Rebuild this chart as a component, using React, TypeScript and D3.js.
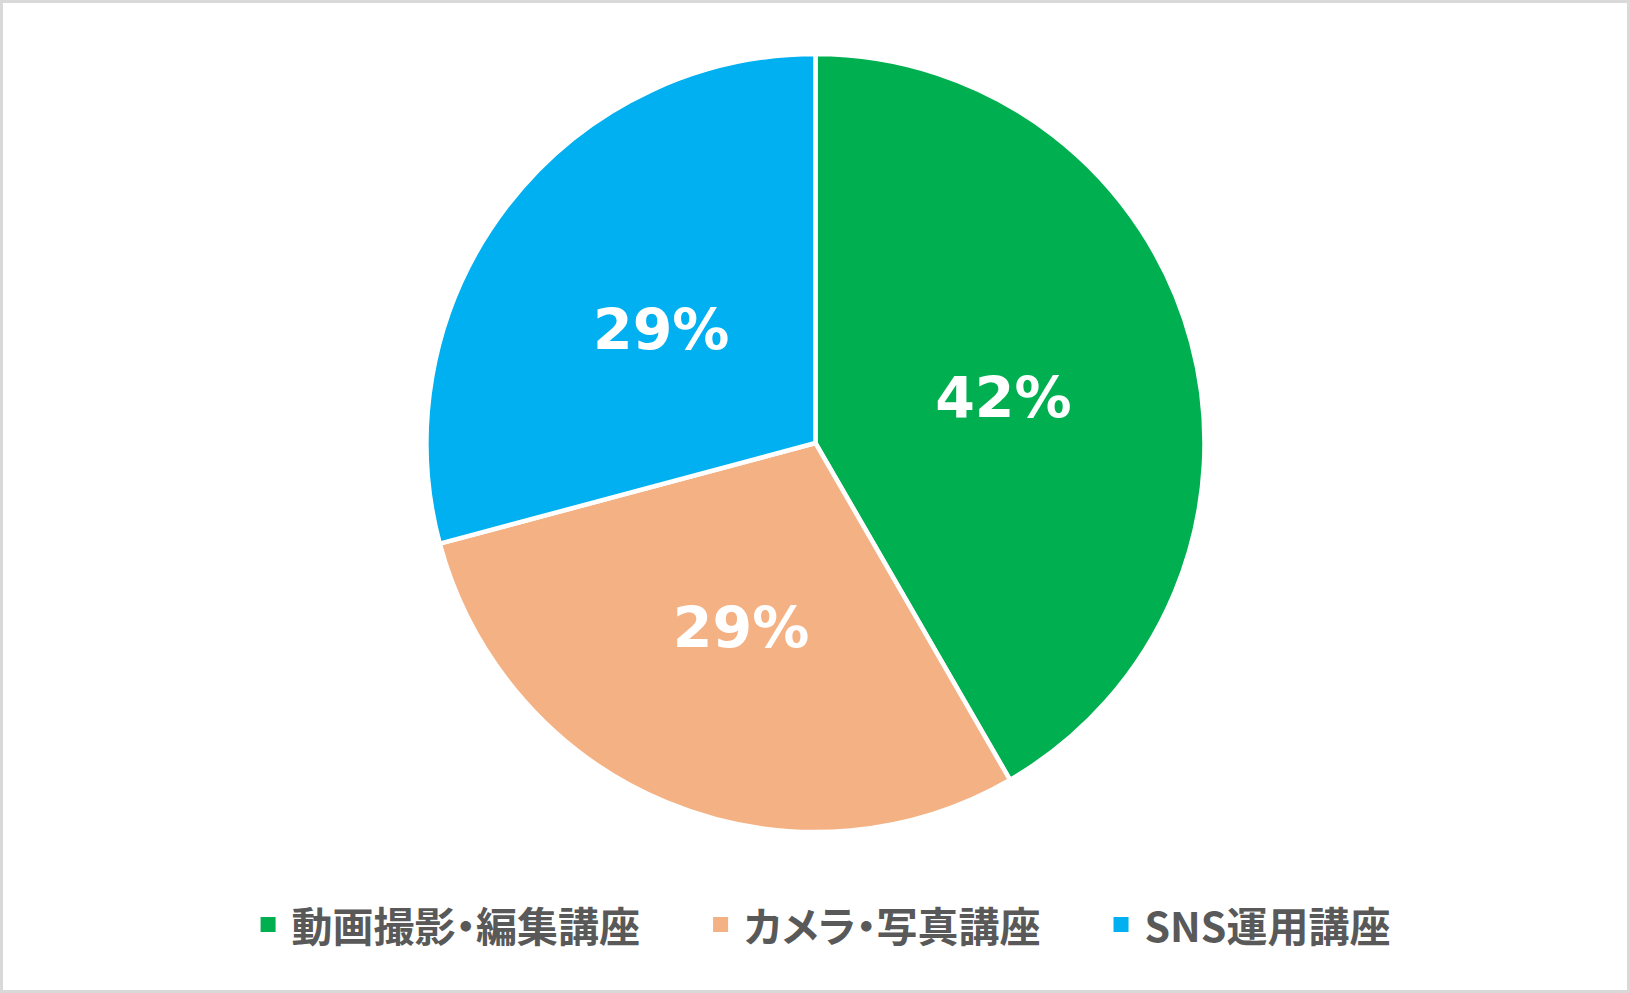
import React, { useEffect, useRef } from 'react';
import * as d3 from 'd3';

const WIDTH = 1630;
const HEIGHT = 993;

// Course shares
const categories = ['動画撮影・編集講座', 'カメラ・写真講座', 'SNS運用講座'];
const shares = [10, 7, 7];
const colors = ['#00B050', '#F4B183', '#00B0F0'];

const CX = 815.5;
const CY = 443;
const RADIUS = 389;

const App = () => {
  const svgRef = useRef<SVGSVGElement>(null);

  useEffect(() => {
    const svg = d3.select(svgRef.current);
    svg.selectAll('*').remove();

    // Outer frame
    svg.append('rect')
      .attr('x', 1.5).attr('y', 1.5)
      .attr('width', WIDTH - 3).attr('height', HEIGHT - 3)
      .attr('fill', '#fff')
      .attr('stroke', '#D9D9D9')
      .attr('stroke-width', 3);

    const data = categories.map((name, i) => ({ name, value: shares[i], color: colors[i] }));
    const total = d3.sum(shares);

    const pie = d3.pie<any>().sort(null).value(d => d.value);
    const arcs = pie(data);
    const arc = d3.arc<any>().innerRadius(0).outerRadius(RADIUS);

    const g = svg.append('g').attr('transform', `translate(${CX},${CY})`);

    g.selectAll('path')
      .data(arcs)
      .join('path')
        .attr('d', arc)
        .attr('fill', d => d.data.color)
        .attr('stroke', '#fff')
        .attr('stroke-width', 4.5)
        .attr('stroke-linejoin', 'round');

    const fmt = d3.format('.0%');
    g.selectAll('text')
      .data(arcs)
      .join('text')
        .attr('transform', d => `translate(${arc.centroid(d)})`)
        .attr('text-anchor', 'middle')
        .attr('dominant-baseline', 'central')
        .attr('dy', 5)
        .attr('fill', '#fff')
        .style('font', "bold 57px 'DejaVu Sans', Verdana, sans-serif")
        .text(d => fmt(d.data.value / total));

    // Legend
    const legend = svg.append('g');
    const items = legend.selectAll('g')
      .data(data)
      .join('g');
    items.append('rect')
      .attr('width', 15).attr('height', 15)
      .attr('y', -7)
      .attr('fill', d => d.color);
    const labels = items.append('text')
      .attr('x', 31)
      .attr('dominant-baseline', 'central')
      .attr('fill', '#595959')
      .style('font', "bold 41px 'Noto Sans CJK JP', sans-serif")
      .style('font-feature-settings', "'palt'")
      .text(d => d.name);

    const widths: number[] = [];
    labels.each(function () { widths.push(31 + (this as SVGTextElement).getComputedTextLength()); });
    const gap = 73;
    const totalW = d3.sum(widths) + gap * (widths.length - 1);
    let x = 825.5 - totalW / 2;
    items.each(function (_, i) {
      d3.select(this).attr('transform', `translate(${x},924)`);
      x += widths[i] + gap;
    });
  }, []);

  return (
    <svg
      ref={svgRef}
      width={WIDTH}
      height={HEIGHT}
      style={{ position: 'absolute', left: 0, top: 0 }}
    />
  );
};

export default App;
